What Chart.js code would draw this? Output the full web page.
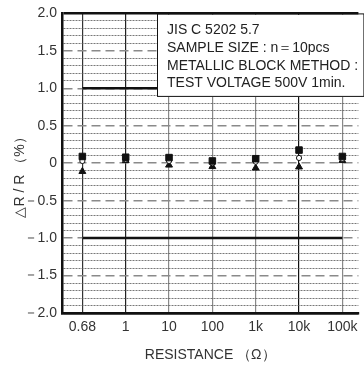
<!DOCTYPE html>
<html>
<head>
<meta charset="utf-8">
<script src="https://cdn.jsdelivr.net/npm/chart.js@4.4.1/dist/chart.umd.min.js"></script>
<style>
  html, body { margin: 0; padding: 0; background: #fff; }
  canvas { display: block; }
</style>
</head>
<body>
<canvas id="chart" width="364" height="371"></canvas>
<script>
// resistance values along the bottom
const categories = ['0.68', '1', '10', '100', '1k', '10k', '100k'];
// ΔR/R (%)
const maxValues = [0.09, 0.08, 0.075, 0.03, 0.06, 0.175, 0.09];   // filled square
const avgValues = [0.03, 0.05, 0.03, 0.0, 0.02, 0.07, 0.06];      // open circle
const minValues = [-0.11, 0.035, -0.025, -0.045, -0.065, -0.05, 0.035]; // filled triangle
// spec limits
const limitUpper = 1.0;
const limitLower = -1.0;
// note box text
const noteLines = ['JIS C 5202 5.7', 'SAMPLE SIZE : n＝10pcs', 'METALLIC BLOCK METHOD :', 'TEST VOLTAGE 500V 1min.'];
const xTitle = 'RESISTANCE （Ω）';
const yTitle = '△R / R （%）';

Chart.defaults.font.family = '"Liberation Sans", Arial, sans-serif';
Chart.defaults.color = '#333';

const vLineColors = ['#333', '#222', '#888', '#888', '#888', '#111', '#888'];

function yKind(v) {
  const t = Math.round(v * 10);
  if (Math.abs(t) === 20) return 'edge';
  if (t % 5 === 0) return 'major';
  return 'minor';
}

// note box + rotated y title
const extrasPlugin = {
  id: 'extras',
  afterDatasetsDraw(chart) {
    const { ctx, chartArea } = chart;
    ctx.save();
    // note box
    const bx = chartArea.left + 95, by = chartArea.top + 1.5, bh = 82;
    ctx.fillStyle = '#fff';
    ctx.fillRect(bx, by, chartArea.right - bx + 2, bh);
    ctx.strokeStyle = '#111';
    ctx.lineWidth = 1;
    ctx.strokeRect(bx + 0.5, by - 1, chartArea.right - bx + 5, bh + 0.5);
    ctx.fillStyle = '#222';
    ctx.font = '14px "Liberation Sans", Arial, sans-serif';
    ctx.textBaseline = 'middle';
    noteLines.forEach((t, i) => ctx.fillText(t, bx + 10, chartArea.top + 17 + i * 17.7));
    // y title
    ctx.translate(20, 174);
    ctx.rotate(-Math.PI / 2);
    ctx.textAlign = 'center';
    ctx.fillStyle = '#333';
    ctx.font = '14px "Liberation Sans", Arial, sans-serif';
    ctx.fillText(yTitle, 0, 0);
    ctx.restore();
  }
};

const idx = categories.map((c, i) => i);
const pts = arr => arr.map((v, i) => ({ x: i, y: v }));

new Chart(document.getElementById('chart'), {
  type: 'scatter',
  data: {
    datasets: [
      {
        type: 'line', data: [{ x: 0, y: limitUpper }, { x: idx.length - 1, y: limitUpper }],
        borderColor: '#111', borderWidth: 2.5, pointRadius: 0, order: 5
      },
      {
        type: 'line', data: [{ x: 0, y: limitLower }, { x: idx.length - 1, y: limitLower }],
        borderColor: '#111', borderWidth: 2.5, pointRadius: 0, order: 5
      },
      {
        data: pts(minValues), pointStyle: 'triangle', pointRadius: 4,
        backgroundColor: '#111', borderColor: '#111', borderWidth: 1, order: 3
      },
      {
        data: pts(avgValues), pointStyle: 'circle', pointRadius: 2.6,
        backgroundColor: '#fff', borderColor: '#111', borderWidth: 1, order: 2
      },
      {
        data: pts(maxValues), pointStyle: 'rect', pointRadius: 4.6,
        backgroundColor: '#111', borderColor: '#111', borderWidth: 1, order: 1
      }
    ]
  },
  options: {
    responsive: false,
    animation: false,
    devicePixelRatio: 1,
    layout: { padding: { top: 10, right: 0, left: 0, bottom: 0 } },
    plugins: { legend: { display: false }, tooltip: { enabled: false } },
    scales: {
      x: {
        type: 'linear',
        min: -0.47,
        max: 6.37,
        afterBuildTicks: s => { s.ticks = idx.map(i => ({ value: i })); },
        afterFit: s => { s.height = 58; },
        ticks: {
          autoSkip: false, maxRotation: 0, padding: 6,
          font: { size: 14 }, color: '#333',
          callback: v => categories[v]
        },
        grid: {
          drawTicks: false,
          color: c => (c.tick ? vLineColors[c.tick.value] : '#111'),
          lineWidth: 1.2
        },
        border: { color: '#111', width: 2.5 },
        title: {
          display: true, text: xTitle, color: '#333',
          font: { size: 14 }, padding: { top: 0, bottom: 7 }
        }
      },
      y: {
        min: -2,
        max: 2,
        afterBuildTicks: s => {
          const t = [];
          for (let k = -20; k <= 20; k++) t.push({ value: k / 10 });
          s.ticks = t;
        },
        afterFit: s => { s.width = 62; },
        ticks: {
          autoSkip: false, padding: 5,
          font: { size: 14 }, color: '#333',
          callback: v => {
            if (yKind(v) === 'minor') return '';
            if (Math.abs(v) < 1e-9) return '0';
            return (v < 0 ? '－' : '') + Math.abs(v).toFixed(1);
          }
        },
        grid: {
          drawTicks: false,
          color: c => {
            if (!c.tick) return '#111';
            const k = yKind(c.tick.value);
            return k === 'edge' ? '#111' : k === 'major' ? '#8a8a8a' : '#555';
          },
          lineWidth: c => {
            if (!c.tick) return 1;
            const k = yKind(c.tick.value);
            return k === 'edge' ? 2.5 : k === 'major' ? 1.5 : 0.8;
          }
        },
        border: {
          color: '#111', width: 2.5,
          dash: c => {
            if (!c.tick) return [];
            const k = yKind(c.tick.value);
            return k === 'edge' ? [] : k === 'major' ? [9, 5] : [2, 1];
          }
        }
      }
    }
  },
  plugins: [extrasPlugin]
});
</script>
</body>
</html>
